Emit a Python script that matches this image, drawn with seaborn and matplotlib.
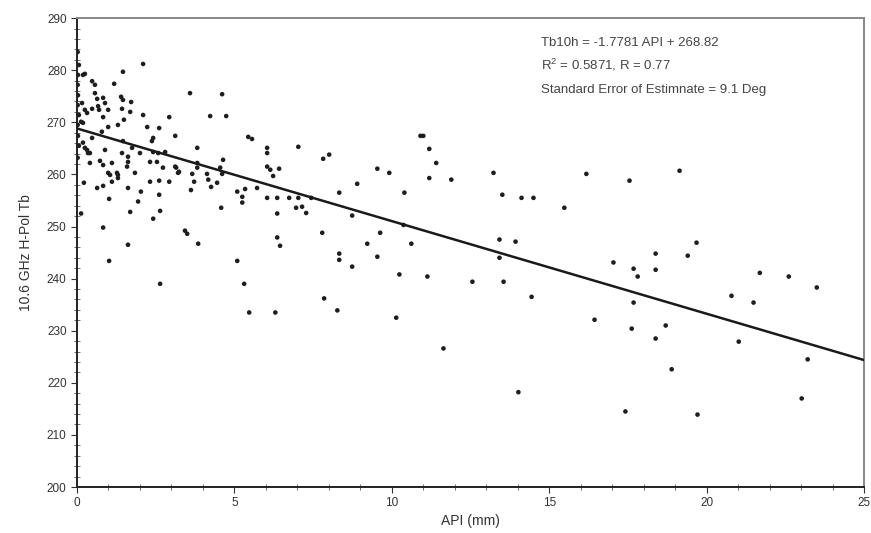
import numpy as np
import pandas as pd
import matplotlib
matplotlib.use("Agg")
import matplotlib.pyplot as plt
import seaborn as sns
from matplotlib.ticker import MultipleLocator

# ---- data ----
api = [
    0.02, 0.06, 0.03, 0.02, 0.03, 0.02, 0.06, 0.02, 0.03, 0.06, 0.02, 0.13, 0.22,
    0.19, 0.25, 1.46, 2.10, 0.48, 0.57, 1.18, 0.57, 0.64, 0.83, 0.89, 1.40, 1.46,
    1.72, 0.16, 0.25, 0.32, 0.48, 0.67, 0.70, 0.99, 0.83, 1.43, 1.69, 1.49, 2.10,
    2.93, 3.59, 4.23, 4.74, 4.61, 0.13, 0.19, 0.99, 1.30, 2.23, 2.61, 3.12, 5.44,
    5.56, 0.48, 0.19, 0.79, 1.46, 2.42, 2.38, 3.82, 0.32, 0.41, 0.89, 1.43, 1.62,
    2.00, 2.42, 2.58, 2.80, 4.64, 0.41, 0.73, 0.83, 1.11, 1.62, 1.59, 2.32, 2.54,
    3.12, 3.21, 3.82, 3.82, 3.66, 4.13, 4.55, 4.61, 0.99, 1.27, 1.84, 0.25, 0.35,
    1.05, 1.11, 1.30, 1.30, 1.75, 2.73, 2.32, 2.61, 2.93, 3.15, 3.24, 3.62, 0.64,
    0.83, 1.02, 1.62, 2.03, 1.94, 2.61, 1.69, 2.64, 2.42, 0.83, 1.02, 1.62, 2.64,
    3.43, 3.50, 3.85, 3.72, 4.17, 4.26, 4.45, 4.58, 5.09, 5.25, 5.25, 5.34, 5.72,
    5.09, 5.31, 5.47, 6.36, 6.45, 7.79, 6.30, 7.85, 6.04, 6.04, 7.03, 7.82, 8.01,
    6.04, 6.14, 6.23, 6.42, 6.04, 6.36, 6.74, 7.03, 7.44, 6.96, 7.15, 7.28, 6.36,
    8.33, 8.90, 9.54, 9.92, 10.91, 11.00, 11.19, 11.41, 11.19, 11.89, 10.40, 8.74,
    10.37, 9.63, 9.22, 10.62, 8.33, 8.33, 8.74, 9.54, 10.24, 11.13, 8.27, 10.14,
    13.23, 13.51, 14.12, 14.50, 15.48, 16.18, 17.55, 13.42, 13.93, 13.42, 12.56,
    13.55, 14.44, 17.04, 17.68, 17.81, 18.38, 18.38, 17.68, 16.44, 17.62, 18.38,
    11.64, 14.02, 19.14, 19.68, 19.40, 21.69, 22.61, 23.50, 20.79, 21.49, 18.70,
    21.02, 23.21, 18.89, 23.02, 19.71, 17.42,
]
tb10h = [
    283.5, 281.0, 279.1, 277.2, 275.2, 273.3, 271.4, 269.5, 267.4, 265.5, 263.2, 252.5, 258.4,
    279.1, 279.3, 279.7, 281.2, 277.9, 277.2, 277.4, 275.6, 274.5, 274.7, 273.7, 274.9, 274.3,
    273.9, 273.7, 272.4, 271.8, 272.6, 273.1, 272.4, 272.4, 271.0, 272.6, 272.0, 270.5, 271.4,
    271.0, 275.6, 271.2, 271.2, 275.4, 270.1, 269.9, 269.1, 269.5, 269.1, 268.9, 267.4, 267.2,
    266.8, 267.0, 266.1, 268.2, 266.4, 267.0, 266.4, 265.1, 264.7, 264.1, 264.7, 264.1, 263.4,
    264.1, 264.3, 264.1, 264.3, 262.8, 262.2, 262.6, 261.8, 262.2, 262.4, 261.5, 262.4, 262.4,
    261.5, 260.3, 262.2, 261.3, 260.1, 260.1, 261.3, 260.1, 260.3, 260.3, 260.3, 265.1, 264.1,
    259.9, 258.6, 259.9, 259.3, 265.1, 261.3, 258.6, 258.8, 258.6, 261.3, 260.5, 257.0, 257.4,
    257.8, 255.3, 257.4, 256.7, 254.8, 256.1, 252.8, 253.0, 251.5, 249.8, 243.4, 246.5, 239.0,
    249.2, 248.6, 246.7, 258.6, 259.0, 257.6, 258.4, 253.6, 256.7, 255.7, 254.6, 257.2, 257.4,
    243.4, 239.0, 233.5, 247.9, 246.3, 248.8, 233.5, 236.2, 265.1, 264.1, 265.3, 263.0, 263.8,
    261.5, 260.9, 259.7, 261.1, 255.5, 255.5, 255.5, 255.5, 255.5, 253.6, 253.8, 252.6, 252.5,
    256.5, 258.2, 261.1, 260.3, 267.4, 267.4, 264.9, 262.2, 259.3, 259.0, 256.5, 252.1,
    250.3, 248.8, 246.7, 246.7, 244.8, 243.6, 242.3, 244.2, 240.8, 240.4, 233.9, 232.5,
    260.3, 256.1, 255.5, 255.5, 253.6, 260.1, 258.8, 247.5, 247.1, 244.0, 239.4,
    239.4, 236.5, 243.1, 241.9, 240.4, 244.8, 241.7, 235.4, 232.1, 230.4, 228.5,
    226.6, 218.2, 260.7, 246.9, 244.4, 241.1, 240.4, 238.3, 236.7, 235.4, 231.0,
    227.9, 224.5, 222.6, 217.0, 213.9, 214.5,
]
slope = -1.7781
intercept = 268.82
fit_x = [0, 25]
x_ticks = [0, 5, 10, 15, 20, 25]
y_ticks = [200, 210, 220, 230, 240, 250, 260, 270, 280, 290]
annotation = ["Tb10h = -1.7781 API + 268.82",
              "R$^2$ = 0.5871, R = 0.77",
              "Standard Error of Estimnate = 9.1 Deg"]

df = pd.DataFrame({"API (mm)": api, "Tb": tb10h})
fit = pd.DataFrame({"x": fit_x, "y": [slope * v + intercept for v in fit_x]})

sns.set_theme(style="white")
plt.rcParams["font.family"] = ["Liberation Sans", "DejaVu Sans"]
plt.rcParams["mathtext.default"] = "regular"

fig = plt.figure(figsize=(8.71, 5.33), dpi=100)
ax = fig.add_axes([0.0884, 0.0863, 0.9036, 0.8797])

sns.scatterplot(data=df, x="API (mm)", y="Tb", ax=ax, marker="o", s=11,
                color="#1e1e1e", edgecolor="none", linewidth=0, zorder=3)
sns.lineplot(data=fit, x="x", y="y", ax=ax, color="#1a1a1a", linewidth=1.8, zorder=4)

ax.set_xlim(0, 25)
ax.set_ylim(200, 290)
ax.set_xticks(x_ticks)
ax.set_yticks(y_ticks)
ax.xaxis.set_minor_locator(MultipleLocator(1))
ax.yaxis.set_minor_locator(MultipleLocator(2))
ax.tick_params(which="major", direction="out", length=4, width=0.8, color="#333333",
               labelsize=8.5, labelcolor="#333333", bottom=True, left=True)
ax.tick_params(which="minor", direction="inout", length=4, width=0.6, color="#555555",
               bottom=True, left=True)

for side in ["left", "bottom"]:
    ax.spines[side].set_color("#222222")
    ax.spines[side].set_linewidth(1.4)
for side in ["top", "right"]:
    ax.spines[side].set_color("#888888")
    ax.spines[side].set_linewidth(1.4)

ax.set_xlabel("API (mm)", fontsize=10, color="#333333", labelpad=3)
ax.set_ylabel("10.6 GHz H-Pol Tb", fontsize=10, color="#333333", labelpad=10)

for i, line in enumerate(annotation):
    ax.text(0.59, 0.940 - i * 0.050, line, transform=ax.transAxes, fontsize=9.5,
            color="#444444", va="baseline", ha="left")

fig.savefig("out.png", dpi=100)
